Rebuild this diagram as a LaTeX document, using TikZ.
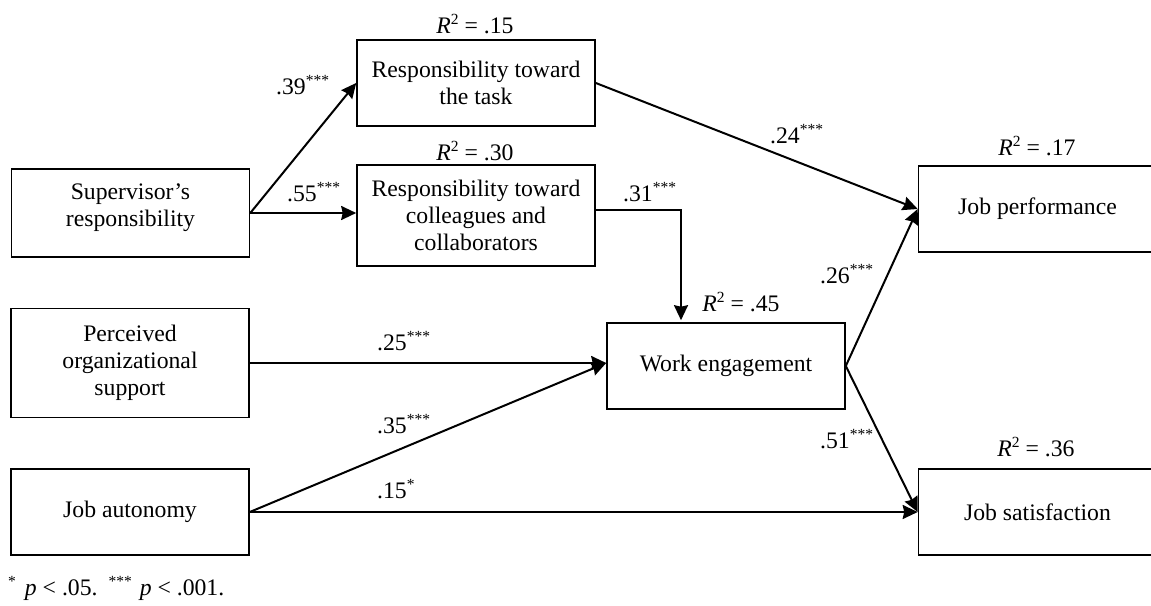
\documentclass[tikz,border=0pt]{standalone}
\usepackage{fontspec}
\setmainfont{Liberation Serif}
\usetikzlibrary{arrows.meta}
\newcommand\mysup[1]{\raisebox{0.36em}{\fontsize{15.5pt}{15.5pt}\selectfont #1}}
\begin{document}
\begin{tikzpicture}[x=1pt,y=-1pt,
  every node/.style={font=\fontsize{23.7pt}{27pt}\selectfont},
  varbox/.style={draw, line width=1.6pt, minimum width=238pt, minimum height=86pt, inner sep=0pt, align=center},
  lbl/.style={inner sep=0pt, anchor=base west},
  rsq/.style={inner sep=0pt, anchor=base},
  arr/.style={line width=2pt, -{Stealth[length=15pt,width=14pt,inset=1.5pt]}}]
\useasboundingbox (0,0) rectangle (1151,605);
\clip (0,0) rectangle (1151,605);
% boxes
\node[varbox] (task) at (476,83) {Responsibility toward\\the task};
\node[varbox, minimum height=101pt] (coll) at (476,215.5) {Responsibility toward\\colleagues and\\collaborators};
\node[varbox, minimum height=88pt] (sup) at (130.5,213) {\\[-22pt]Supervisor’s\\responsibility};
\node[varbox, minimum height=109pt] (pos) at (130,363) {Perceived\\organizational\\support};
\node[varbox] (ja) at (130,512) {Job autonomy};
\node[varbox] (we) at (726,366) {Work engagement};
\node[varbox] (jp) at (1037.5,209) {Job performance};
\node[varbox] (js) at (1037.5,512) {Job satisfaction};
% connectors
\draw[arr] (sup.east) -- (task.west);
\draw[arr] (sup.east) -- (sup.east -| coll.west);
\draw[arr] (task.east) -- (jp.west);
\draw[arr] ([yshift=6pt]coll.east) -| ([xshift=-45pt,yshift=2pt]we.north);
\coordinate (wein) at (pos.east -| we.west);
\draw[arr] (pos.east) -- (wein);
\draw[arr] (ja.east) -- (wein);
\draw[arr] (ja.east) -- (ja.east -| js.west);
\draw[arr] (we.east) -- (jp.west);
\draw[arr] (we.east) -- (js.west);
% path coefficients
\node[lbl] (l39) at (276,94) {.39\mysup{***}};
\node[lbl] (l55) at (287,201) {.55\mysup{***}};
\node[lbl] (l24) at (770,143) {.24\mysup{***}};
\node[lbl] (l31) at (623,201) {.31\mysup{***}};
\node[lbl] (l25) at (377,350) {.25\mysup{***}};
\node[lbl] (l35) at (377,433) {.35\mysup{***}};
\node[lbl] (l15) at (377,498) {.15\mysup{*}};
\node[lbl] (l26) at (820,283) {.26\mysup{***}};
\node[lbl] (l51) at (820,448) {.51\mysup{***}};
% R squared
\node[rsq] (r15) at (475,33) {\textit{R}\mysup{2} = .15};
\node[rsq] (r30) at (475,160) {\textit{R}\mysup{2} = .30};
\node[rsq] (r17) at (1037,155) {\textit{R}\mysup{2} = .17};
\node[rsq] (r45) at (741,311) {\textit{R}\mysup{2} = .45};
\node[rsq] (r36) at (1036,456) {\textit{R}\mysup{2} = .36};
% note
\node[lbl] (note) at (8,595) {\mysup{*}\hspace{9pt}\textit{p} < .05.\hspace{11pt}\mysup{***}\hspace{8pt}\textit{p} < .001.};
\end{tikzpicture}
\end{document}
